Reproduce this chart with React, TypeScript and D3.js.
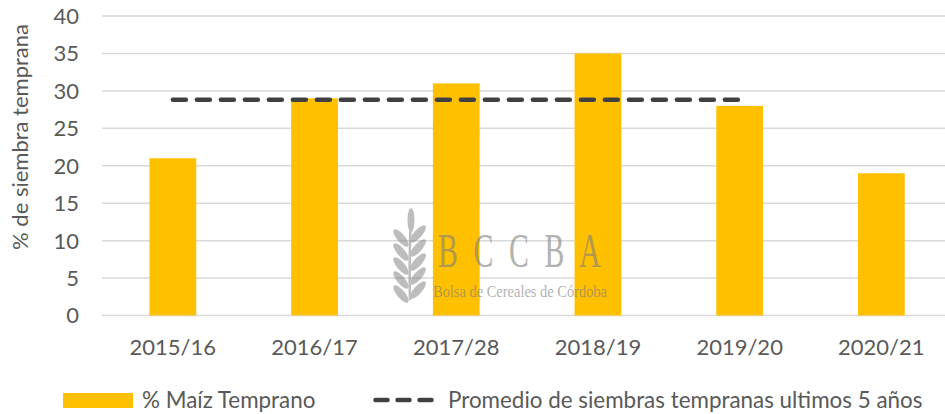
import React from "react";
import * as d3 from "d3";

const categories = ["2015/16", "2016/17", "2017/28", "2018/19", "2019/20", "2020/21"];
const maizTemprano = [21, 29, 31, 35, 28, 19];
const promedio = 28.8;
const promedioCategories = ["2015/16", "2016/17", "2017/28", "2018/19", "2019/20"];
const yTicks = [0, 5, 10, 15, 20, 25, 30, 35, 40];
const seriesNames = ["% Maíz Temprano", "Promedio de siembras tempranas ultimos 5 años"];
const logoLetters = ["B", "C", "C", "B", "A"];

const W = 945;
const H = 414;
const FONT = "Lato, 'Open Sans', sans-serif";
const TEXT = "#595959";

function Wheat({ x, y }: { x: number; y: number }) {
  const leaves: React.ReactNode[] = [];
  const rows = [0, 1, 2, 3, 4];
  rows.forEach((i) => {
    const ly = 30 + i * 14;
    leaves.push(
      <ellipse key={"l" + i} cx={-8} cy={ly} rx={4} ry={11} transform={`rotate(-40 ${-8} ${ly})`} />
    );
    leaves.push(
      <ellipse key={"r" + i} cx={9} cy={ly - 4} rx={4} ry={11} transform={`rotate(42 ${9} ${ly - 4})`} />
    );
  });
  return (
    <g transform={`translate(${x},${y})`} fill="#7f7f7f" opacity={0.85}>
      <path d="M1,92 Q0,50 2,8" stroke="#7f7f7f" strokeWidth={2.5} fill="none" />
      <ellipse cx={2} cy={12} rx={3.5} ry={12} />
      {leaves}
    </g>
  );
}

export default function App() {
  const margin = { left: 102 };
  const x = d3.scaleBand<string>().domain(categories).range([102, 102 + 141.7 * 6]).padding(0);
  const y = d3.scaleLinear().domain([0, 40]).range([315.5, 16]);
  const barW = x.bandwidth() * 0.33;
  const cx = (c: string) => (x(c) as number) + x.bandwidth() / 2;

  const line = d3
    .line<string>()
    .x((c) => cx(c))
    .y(() => y(promedio));

  return (
    <svg width={W} height={H} style={{ position: "absolute", left: 0, top: 0 }} fontFamily={FONT}>
      <rect width={W} height={H} fill="#fff" />
      {yTicks.map((t) => (
        <g key={t}>
          <line x1={margin.left} x2={W} y1={y(t)} y2={y(t)} stroke="#d9d9d9" strokeWidth={1.5} />
          <text x={79} y={y(t)} dy="0.36em" textAnchor="end" fontSize={22} fill={TEXT}>
            {t}
          </text>
        </g>
      ))}
      <text
        transform={`translate(28,${137}) rotate(-90)`}
        textAnchor="middle"
        fontSize={22}
        fill={TEXT}
      >
        % de siembra temprana
      </text>
      {categories.map((c, i) => (
        <g key={c}>
          <rect
            x={cx(c) - barW / 2}
            width={barW}
            y={y(maizTemprano[i])}
            height={y(0) - y(maizTemprano[i])}
            fill="#FFC000"
          />
          <text x={cx(c)} y={355} textAnchor="middle" fontSize={22} fill={TEXT}>
            {c}
          </text>
        </g>
      ))}
      <path
        d={line(promedioCategories) || ""}
        stroke="#404040"
        strokeWidth={4.5}
        strokeDasharray="13 11"
        strokeLinecap="round"
        fill="none"
      />
      {/* watermark */}
      <g opacity={0.6}>
        <Wheat x={409} y={208} />
        {logoLetters.map((l, i) => (
          <text
            key={i}
            transform={`translate(${448 + i * 35.5},267) scale(0.62,1)`}
            textAnchor="middle"
            fontFamily="'Liberation Serif', 'DejaVu Serif', serif"
            fontSize={48}
            fill="#7f7f7f"
          >
            {l}
          </text>
        ))}
        <text
          x={433}
          y={297}
          fontFamily="'Liberation Serif', 'DejaVu Serif', serif"
          fontSize={17}
          fill="#7f7f7f"
          textLength={174}
          lengthAdjust="spacingAndGlyphs"
        >
          Bolsa de Cereales de Córdoba
        </text>
      </g>
      {/* legend */}
      <rect x={63} y={393} width={70} height={15} fill="#FFC000" />
      <text x={142} y={400} dy="0.36em" fontSize={22.4} fill={TEXT}>
        {seriesNames[0]}
      </text>
      <line
        x1={375.5}
        x2={432}
        y1={400}
        y2={400}
        stroke="#404040"
        strokeWidth={4.5}
        strokeDasharray="12 10"
        strokeLinecap="round"
      />
      <text x={448} y={400} dy="0.36em" fontSize={22.4} fill={TEXT}>
        {seriesNames[1]}
      </text>
    </svg>
  );
}
